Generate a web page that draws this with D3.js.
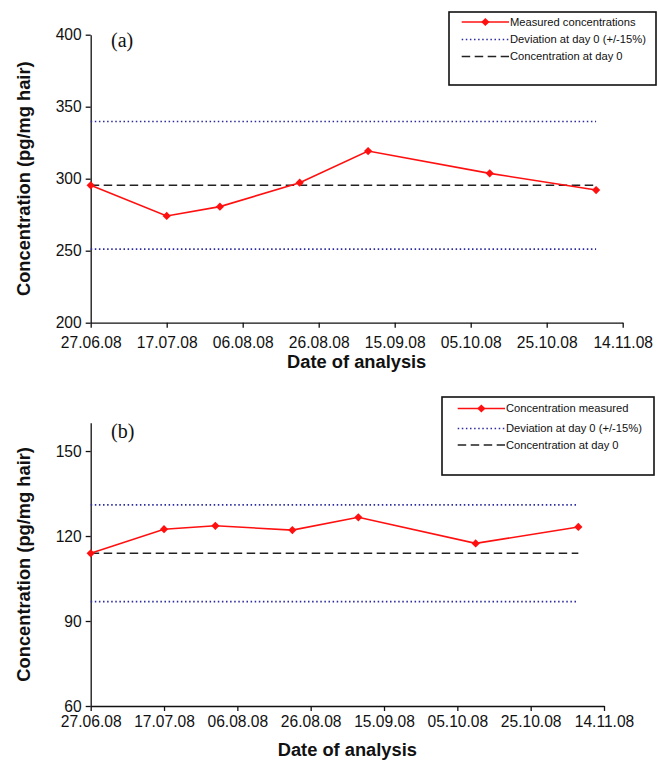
<!DOCTYPE html>
<html>
<head>
<meta charset="utf-8">
<script src="https://cdn.jsdelivr.net/npm/d3@7"></script>
<style>
  html, body { margin: 0; padding: 0; background: #fff; }
  svg { display: block; }
  text { font-family: "Liberation Sans", Arial, sans-serif; fill: #111; }
</style>
</head>
<body>
<svg id="chart" width="658" height="761"></svg>
<script>
// Sampling dates (same for both hair samples)
const sampleDates = ["2008-06-27", "2008-07-17", "2008-07-31", "2008-08-21", "2008-09-08", "2008-10-10", "2008-11-07"];
// Measured concentrations, pg/mg hair
const concA = [295.4, 274.1, 280.6, 297.2, 319.2, 303.7, 292.1];
const concB = [113.9, 122.4, 123.6, 122.1, 126.6, 117.4, 123.2];
// Axis ticks
const xTickDates = ["2008-06-27", "2008-07-17", "2008-08-06", "2008-08-26", "2008-09-15", "2008-10-05", "2008-10-25", "2008-11-14"];
const yTicksA = [200, 250, 300, 350, 400];
const yTicksB = [60, 90, 120, 150];
const yDomainA = [200, 400];
const yDomainB = [60, 160];
// Legend texts
const legendA = ["Measured concentrations", "Deviation at day 0 (+/-15%)", "Concentration at day 0"];
const legendB = ["Concentration measured", "Deviation at day 0 (+/-15%)", "Concentration at day 0"];
// Tolerance band around the day-0 concentration
const deviation = 0.15;

const parse = d3.utcParse("%Y-%m-%d");
const fmt = d3.utcFormat("%d.%m.%y");
const svg = d3.select("#chart");

const panels = [
  { tag: "(a)", values: concA, yTicks: yTicksA, yDomain: yDomainA, legend: legendA,
    left: 90.7, right: 622.7, top: 34.7, bottom: 322.7, tickPad: 9, titleY: 368,
    tagX: 111, tagY: 47,
    box: { x: 449, y: 12, w: 207, h: 73, lx0: 461.7, lx1: 509, tx: 510, rows: [22, 39.5, 56.5] } },
  { tag: "(b)", values: concB, yTicks: yTicksB, yDomain: yDomainB, legend: legendB,
    left: 90.7, right: 604, top: 422.7, bottom: 706, tickPad: 5, titleY: 756,
    tagX: 111, tagY: 438,
    box: { x: 442, y: 397, w: 212, h: 78, lx0: 457.7, lx1: 505, tx: 506, rows: [408.5, 428.5, 445] } }
];

const lineStyles = {
  measured: { stroke: "#ff1010", width: 1.6, dash: null },
  deviation: { stroke: "#2b2ba0", width: 1.7, dash: "1.5 2.6" },
  day0: { stroke: "#222", width: 1.6, dash: "8.5 4.5" }
};

// Diamond marker: a square turned by 45 degrees
const marker = d3.symbol().type(d3.symbolSquare).size(34);

panels.forEach(p => {
  const g = svg.append("g");
  const x = d3.scaleUtc()
    .domain([parse(xTickDates[0]), parse(xTickDates[xTickDates.length - 1])])
    .range([p.left, p.right]);
  const y = d3.scaleLinear().domain(p.yDomain).range([p.bottom, p.top]);

  // Axes
  const xAxis = g.append("g")
    .attr("transform", `translate(0,${p.bottom})`)
    .call(d3.axisBottom(x).tickValues(xTickDates.map(parse)).tickFormat(fmt)
      .tickSize(5).tickPadding(p.tickPad).tickSizeOuter(0));
  const yAxis = g.append("g")
    .attr("transform", `translate(${p.left},0)`)
    .call(d3.axisLeft(y).tickValues(p.yTicks).tickSize(5).tickPadding(4).tickSizeOuter(0));
  [xAxis, yAxis].forEach(a => {
    a.select(".domain").attr("stroke", "#111").attr("stroke-width", 1.3);
    a.selectAll(".tick line").attr("stroke", "#111").attr("stroke-width", 1.3);
    a.selectAll(".tick text").attr("font-size", "15.6px").attr("fill", "#111")
      .attr("font-family", "'Liberation Sans', Arial, sans-serif");
  });

  // Reference lines: day-0 concentration and +/-15 % band
  const c0 = p.values[0];
  const d0 = parse(sampleDates[0]);
  const dN = parse(sampleDates[sampleDates.length - 1]);
  const hline = (v, st) => g.append("line")
    .attr("x1", x(d0)).attr("x2", x(dN))
    .attr("y1", y(v)).attr("y2", y(v))
    .attr("stroke", st.stroke).attr("stroke-width", st.width)
    .attr("stroke-dasharray", st.dash);
  hline(c0 * (1 + deviation), lineStyles.deviation);
  hline(c0 * (1 - deviation), lineStyles.deviation);
  hline(c0, lineStyles.day0);

  // Measured series
  const pts = sampleDates.map((d, i) => ({ date: parse(d), value: p.values[i] }));
  g.append("path").datum(pts)
    .attr("fill", "none")
    .attr("stroke", lineStyles.measured.stroke)
    .attr("stroke-width", lineStyles.measured.width)
    .attr("d", d3.line().x(d => x(d.date)).y(d => y(d.value)));
  g.selectAll(".pt").data(pts).enter().append("path")
    .attr("d", marker)
    .attr("transform", d => `translate(${x(d.date)},${y(d.value)}) rotate(45)`)
    .attr("fill", "#ff1010");

  // Panel tag
  g.append("text").attr("x", p.tagX).attr("y", p.tagY)
    .style("font-family", "'Liberation Serif', 'Times New Roman', serif")
    .attr("font-size", "20px").text(p.tag);

  // Axis titles
  g.append("text")
    .attr("x", (p.left + p.right) / 2).attr("y", p.titleY)
    .attr("text-anchor", "middle").attr("font-weight", "bold").attr("font-size", "18.3px")
    .text("Date of analysis");
  g.append("text")
    .attr("transform", `translate(30,${(p.top + p.bottom) / 2}) rotate(-90)`)
    .attr("text-anchor", "middle").attr("font-weight", "bold").attr("font-size", "18.3px")
    .text("Concentration (pg/mg hair)");

  // Legend
  const b = p.box;
  const lg = g.append("g");
  lg.append("rect").attr("x", b.x).attr("y", b.y).attr("width", b.w).attr("height", b.h)
    .attr("fill", "#fff").attr("stroke", "#111").attr("stroke-width", 1.6);
  const keys = [lineStyles.measured, lineStyles.deviation, lineStyles.day0];
  keys.forEach((st, i) => {
    const ry = b.rows[i];
    lg.append("line").attr("x1", b.lx0).attr("x2", b.lx1).attr("y1", ry).attr("y2", ry)
      .attr("stroke", st.stroke).attr("stroke-width", st.width)
      .attr("stroke-dasharray", st.dash);
    if (i === 0) {
      lg.append("path").attr("d", marker)
        .attr("transform", `translate(${(b.lx0 + b.lx1) / 2},${ry}) rotate(45)`)
        .attr("fill", "#ff1010");
    }
    lg.append("text").attr("x", b.tx).attr("y", ry).attr("dy", "0.35em")
      .attr("font-size", "11.2px").text(p.legend[i]);
  });
});
</script>
</body>
</html>
